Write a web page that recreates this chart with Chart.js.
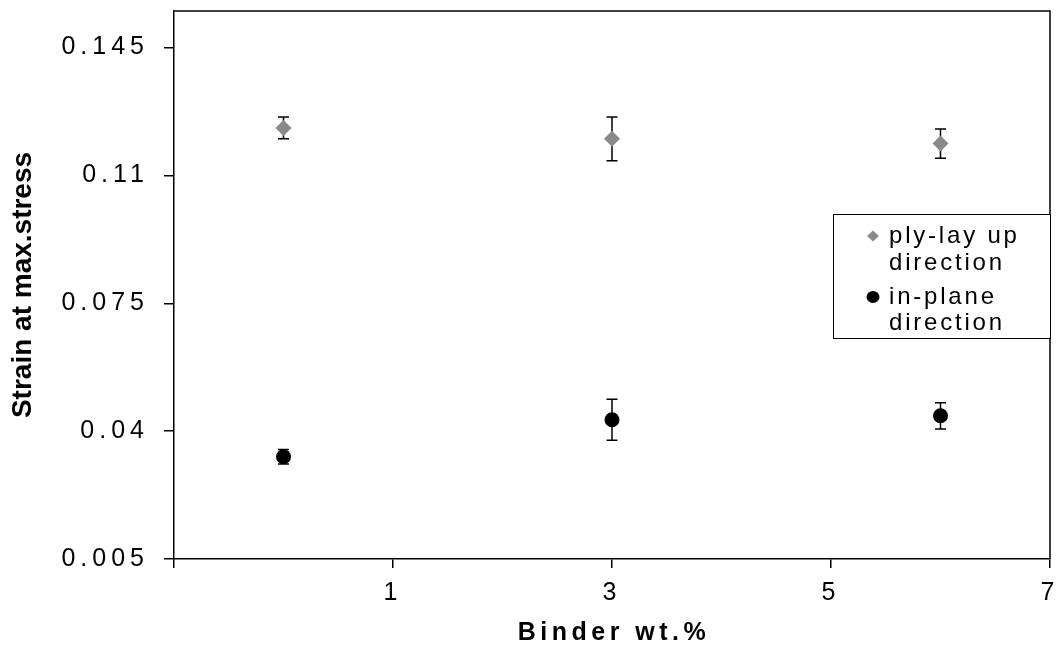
<!DOCTYPE html>
<html><head><meta charset="utf-8">
<script src="https://cdn.jsdelivr.net/npm/chart.js@4.4.0/dist/chart.umd.min.js"></script>
<style>html,body{margin:0;padding:0;background:#fff}</style>
</head><body>
<canvas id="c" width="1059" height="645"></canvas>
<script>
// ---- data ----
const binder = [0, 3, 6];
const plyLayUp = [0.123, 0.120, 0.1187];
const plyLayUpErr = [0.003, 0.006, 0.004];
const inPlane = [0.033, 0.0431, 0.0442];
const inPlaneErr = [0.002, 0.0056, 0.0036];
const yTicks = [0.005, 0.04, 0.075, 0.11, 0.145];
const yTickLabels = ['0.005', '0.04', '0.075', '0.11', '0.145'];
const xTicks = [-1, 1, 3, 5, 7];
const xTickLabels = ['', '1', '3', '5', '7'];
const seriesNames = [['ply-lay up', 'direction'], ['in-plane', 'direction']];
const xTitle = 'Binder wt.%';
const yTitle = 'Strain at max.stress';

const FONT = '"Liberation Sans", Arial, sans-serif';
const errs = [plyLayUpErr, inPlaneErr];

const decor = {
  id: 'decor',
  beforeDraw(chart) { chart.ctx.letterSpacing = '5px'; },
  beforeDatasetsDraw(chart) {
    const ctx = chart.ctx, a = chart.chartArea;
    ctx.save();
    ctx.strokeStyle = '#000'; ctx.lineWidth = 1.5;
    ctx.beginPath();
    ctx.moveTo(a.left, a.top); ctx.lineTo(a.right, a.top); ctx.lineTo(a.right, a.bottom);
    ctx.stroke();
    // error bars
    const xs = chart.scales.x, ys = chart.scales.y;
    ctx.lineWidth = 1.5;
    chart.data.datasets.forEach((ds, di) => {
      ds.data.forEach((p, i) => {
        const x = xs.getPixelForValue(p.x);
        const y1 = ys.getPixelForValue(p.y + errs[di][i]);
        const y2 = ys.getPixelForValue(p.y - errs[di][i]);
        ctx.beginPath();
        ctx.moveTo(x, y1); ctx.lineTo(x, y2);
        ctx.moveTo(x - 5.5, y1); ctx.lineTo(x + 5.5, y1);
        ctx.moveTo(x - 5.5, y2); ctx.lineTo(x + 5.5, y2);
        ctx.stroke();
      });
    });
    ctx.restore();
  },
  afterDraw(chart) {
    const ctx = chart.ctx, a = chart.chartArea;
    ctx.save();
    ctx.fillStyle = '#000';
    // x title
    ctx.letterSpacing = '4.5px';
    ctx.font = 'bold 25px ' + FONT;
    ctx.textAlign = 'center'; ctx.textBaseline = 'middle';
    ctx.fillText(xTitle, (a.left + a.right) / 2 + 2, 633);
    // y title
    ctx.letterSpacing = '0px';
    ctx.font = 'bold 28px ' + FONT;
    ctx.save();
    ctx.translate(23, (a.top + a.bottom) / 2);
    ctx.rotate(-Math.PI / 2);
    ctx.fillText(yTitle, 0, 0);
    ctx.restore();
    // legend
    const bx = 833, by = 214, bw = a.right - 833, bh = 124;
    ctx.fillStyle = '#fff';
    ctx.fillRect(bx, by, bw, bh);
    ctx.strokeStyle = '#000'; ctx.lineWidth = 1;
    ctx.strokeRect(bx + 0.5, by + 0.5, bw, bh);
    const ds = chart.data.datasets;
    const rows = [[236, 263], [297, 323]];
    ds.forEach((d, di) => {
      ctx.fillStyle = d.backgroundColor;
      ctx.beginPath();
      if (di === 0) {
        ctx.moveTo(873, rows[di][0] - 5.5); ctx.lineTo(879, rows[di][0]);
        ctx.lineTo(873, rows[di][0] + 5.5); ctx.lineTo(867, rows[di][0]);
      } else {
        ctx.ellipse(873, rows[di][0], 6.5, 6, 0, 0, Math.PI * 2);
      }
      ctx.closePath(); ctx.fill();
      ctx.fillStyle = '#000';
      ctx.font = '24px ' + FONT;
      ctx.letterSpacing = '2.8px';
      ctx.textAlign = 'left'; ctx.textBaseline = 'middle';
      ctx.fillText(seriesNames[di][0], 889, rows[di][0]);
      ctx.fillText(seriesNames[di][1], 889, rows[di][1]);
    });
    ctx.restore();
  }
};

new Chart(document.getElementById('c'), {
  type: 'scatter',
  data: {
    datasets: [
      {
        label: seriesNames[0].join(' '),
        data: binder.map((x, i) => ({ x, y: plyLayUp[i] })),
        pointStyle: 'rectRot', radius: 8, hoverRadius: 8,
        backgroundColor: '#8a8a8a', borderColor: '#8a8a8a', borderWidth: 0
      },
      {
        label: seriesNames[1].join(' '),
        data: binder.map((x, i) => ({ x, y: inPlane[i] })),
        pointStyle: 'circle', radius: 7.5, hoverRadius: 7.5,
        backgroundColor: '#000', borderColor: '#000', borderWidth: 0
      }
    ]
  },
  options: {
    responsive: false,
    animation: false,
    devicePixelRatio: 1,
    layout: { padding: { left: 0, right: 9, top: 11, bottom: 0 } },
    plugins: { legend: { display: false }, tooltip: { enabled: false } },
    scales: {
      x: {
        type: 'linear', min: -1, max: 7,
        afterBuildTicks: (ax) => { ax.ticks = xTicks.map(v => ({ value: v })); },
        afterFit: (s) => { s.height = 86; s.paddingLeft = 0; s.paddingRight = 0; },
        ticks: {
          autoSkip: false, maxRotation: 0, padding: 10, color: '#000',
          font: { size: 25, family: FONT },
          callback: (v) => xTickLabels[xTicks.indexOf(v)]
        },
        grid: { drawOnChartArea: false, drawTicks: true, tickLength: 9, color: '#000', lineWidth: 1.5 },
        border: { display: true, color: '#000', width: 1.5 },
        title: { display: false }
      },
      y: {
        type: 'linear', min: 0.005, max: 0.155,
        afterBuildTicks: (ax) => { ax.ticks = yTicks.map(v => ({ value: v })); },
        afterFit: (s) => { s.width = 174; s.paddingTop = 0; s.paddingBottom = 0; },
        ticks: {
          autoSkip: false, padding: 15, color: '#000',
          font: { size: 25, family: FONT },
          callback: (v) => yTickLabels[yTicks.indexOf(v)]
        },
        grid: { drawOnChartArea: false, drawTicks: true, tickLength: 10, color: '#000', lineWidth: 1.5 },
        border: { display: true, color: '#000', width: 1.5 },
        title: { display: false }
      }
    }
  },
  plugins: [decor]
});
</script>
</body></html>
